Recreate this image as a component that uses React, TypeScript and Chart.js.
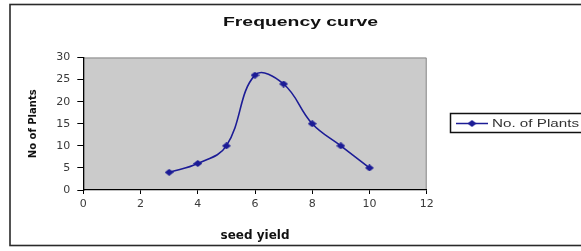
import React, { useEffect, useRef } from "react";
import { Chart, registerables } from "chart.js";

Chart.register(...registerables);

const seedYield = [3, 4, 5, 6, 7, 8, 9, 10];
const noOfPlants = [4, 6, 10, 26, 24, 15, 10, 5];
const chartTitle = "Frequency curve";
const seriesLabel = "No. of Plants";
const xAxisTitle = "seed yield";
const yAxisTitle = "No of Plants";

const LINE_COLOR = "#1c1c96";

function makeDiamond(): HTMLCanvasElement {
  const c = document.createElement("canvas");
  c.width = 9;
  c.height = 7;
  const g = c.getContext("2d")!;
  g.fillStyle = LINE_COLOR;
  g.beginPath();
  g.moveTo(0, 3.5);
  g.lineTo(4.5, 0);
  g.lineTo(9, 3.5);
  g.lineTo(4.5, 7);
  g.closePath();
  g.fill();
  return c;
}

export default function App() {
  const ref = useRef<HTMLCanvasElement | null>(null);

  useEffect(() => {
    document.body.style.margin = "0";
    const canvas = ref.current!;
    const diamond = makeDiamond();

    const decor = {
      id: "decor",
      beforeDraw(chart: any) {
        const { ctx, chartArea: a } = chart;
        ctx.save();
        ctx.fillStyle = "#fff";
        ctx.fillRect(0, 0, chart.width, chart.height);
        ctx.fillStyle = "#cbcbcb";
        ctx.fillRect(a.left, a.top, a.right - a.left, a.bottom - a.top);
        ctx.strokeStyle = "#8a8a8a";
        ctx.lineWidth = 1;
        ctx.beginPath();
        ctx.moveTo(a.left, a.top + 0.5);
        ctx.lineTo(a.right - 0.5, a.top + 0.5);
        ctx.lineTo(a.right - 0.5, a.bottom);
        ctx.stroke();
        ctx.restore();
      },
      afterDraw(chart: any) {
        const { ctx } = chart;
        ctx.save();
        // outer frame
        ctx.strokeStyle = "#2a2a2a";
        ctx.lineWidth = 1.6;
        ctx.strokeRect(10, 4.5, 700, 241);
        // title
        ctx.fillStyle = "#111";
        ctx.font = "bold 13px 'Liberation Sans', Arial, sans-serif";
        ctx.textBaseline = "middle";
        ctx.textAlign = "left";
        const tw = ctx.measureText(chartTitle).width;
        const tsx = 155 / tw;
        ctx.save();
        ctx.translate(223, 22);
        ctx.scale(tsx, 1);
        ctx.fillText(chartTitle, 0, 0);
        ctx.restore();
        // legend box
        ctx.strokeStyle = "#111";
        ctx.lineWidth = 1.5;
        ctx.strokeRect(450.5, 113.5, 300, 19);
        ctx.strokeStyle = LINE_COLOR;
        ctx.lineWidth = 1.5;
        ctx.beginPath();
        ctx.moveTo(456, 123.5);
        ctx.lineTo(488, 123.5);
        ctx.stroke();
        ctx.drawImage(diamond, 472 - 4.5, 123.5 - 3.5);
        ctx.fillStyle = "#333";
        ctx.font = "10px 'Liberation Sans', Arial, sans-serif";
        const lw = ctx.measureText(seriesLabel).width;
        ctx.save();
        ctx.translate(492, 124);
        ctx.scale(87 / lw, 1);
        ctx.fillText(seriesLabel, 0, 0);
        ctx.restore();
        ctx.restore();
      },
    };

    const chart = new Chart(canvas, {
      type: "line",
      data: {
        datasets: [
          {
            label: seriesLabel,
            data: seedYield.map((x, i) => ({ x, y: noOfPlants[i] })),
            borderColor: LINE_COLOR,
            backgroundColor: LINE_COLOR,
            borderWidth: 1.6,
            tension: 0.4,
            pointStyle: diamond as any,
            pointRadius: 4,
            fill: false,
          },
        ],
      },
      options: {
        animation: false,
        responsive: false,
        devicePixelRatio: 1,
        layout: { padding: { top: 57.5, right: 154.3, left: 0, bottom: 0 } },
        plugins: {
          legend: { display: false },
          title: { display: false },
          tooltip: { enabled: false },
        },
        scales: {
          x: {
            type: "linear",
            min: 0,
            max: 12,
            afterFit(scale: any) {
              scale.height = 61;
            },
            ticks: {
              stepSize: 2,
              padding: 4,
              color: "#3a3a3a",
              font: { family: "'DejaVu Sans', sans-serif", size: 11 },
              maxRotation: 0,
            },
            grid: {
              drawOnChartArea: false,
              drawTicks: true,
              tickLength: 4,
              color: "#000",
            },
            border: { display: true, color: "#000", width: 1.3 },
            title: {
              display: true,
              text: xAxisTitle,
              color: "#111",
              font: { family: "'DejaVu Sans', sans-serif", size: 12, weight: "bold" },
              padding: { top: 0, bottom: 7.5 },
            },
          },
          y: {
            type: "linear",
            min: 0,
            max: 30,
            afterFit(scale: any) {
              scale.width = 83.3;
            },
            ticks: {
              stepSize: 5,
              padding: 7,
              color: "#3a3a3a",
              font: { family: "'DejaVu Sans', sans-serif", size: 11 },
            },
            grid: {
              drawOnChartArea: false,
              drawTicks: true,
              tickLength: 6,
              color: "#000",
            },
            border: { display: true, color: "#000", width: 1.3 },
            title: {
              display: true,
              text: yAxisTitle,
              color: "#111",
              font: { family: "'DejaVu Sans', sans-serif", size: 10, weight: "bold" },
              padding: { top: 27.5, bottom: 0 },
            },
          },
        },
      },
      plugins: [decor],
    });

    return () => chart.destroy();
  }, []);

  return (
    <div style={{ width: 581, height: 251, position: "relative" }}>
      <canvas ref={ref} width={581} height={251} style={{ display: "block" }} />
    </div>
  );
}
